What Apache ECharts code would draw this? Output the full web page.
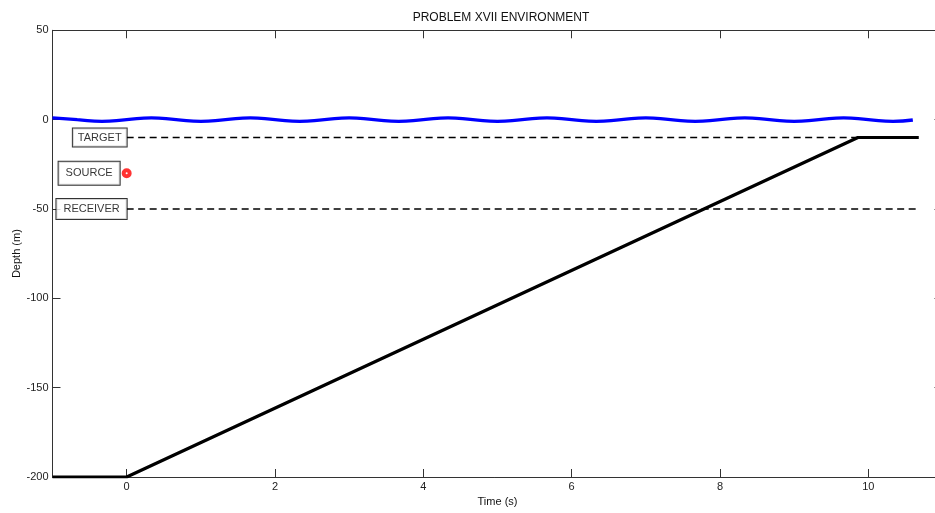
<!DOCTYPE html>
<html>
<head>
<meta charset="utf-8">
<script src="https://cdn.jsdelivr.net/npm/echarts@6/dist/echarts.min.js"></script>
<style>html,body{margin:0;padding:0;background:#fff;}#c{width:935px;height:513px;}</style>
</head>
<body>
<div id="c"></div>
<script>
// ---- data ----
const titleText = 'PROBLEM XVII ENVIRONMENT';
const xAxisName = 'Time (s)';
const yAxisName = 'Depth (m)';
const xTickValues = [0, 2, 4, 6, 8, 10];
const yTickValues = [-200, -150, -100, -50, 0, 50];

// sea surface wave (peaks / zero crossings / troughs)
const waveTime = [-1, -0.667, -0.333, 0, 0.333, 0.667, 1, 1.333, 1.667, 2, 2.333, 2.667, 3, 3.333, 3.667, 4, 4.333, 4.667, 5, 5.333, 5.667, 6, 6.333, 6.667, 7, 7.333, 7.667, 8, 8.333, 8.667, 9, 9.333, 9.667, 10, 10.333, 10.6];
const waveDepth = [1, 0, -1, 0, 1, 0, -1, 0, 1, 0, -1, 0, 1, 0, -1, 0, 1, 0, -1, 0, 1, 0, -1, 0, 1, 0, -1, 0, 1, 0, -1, 0, 1, 0, -1, -0.2];

// target trajectory
const trajTime = [-1, 0, 9.86, 10.68];
const trajDepth = [-200, -200, -10, -10];

// horizontal reference lines
const targetLineTime = [0, 10.66];
const targetLineDepth = [-10, -10];
const receiverLineTime = [0, 10.66];
const receiverLineDepth = [-50, -50];

// source position
const sourceTime = [0];
const sourceDepth = [-30];

// text boxes
const boxNames = ['TARGET', 'SOURCE', 'RECEIVER'];
const boxTime = [0, 0, 0];
const boxDepth = [-10, -30, -50];

// ---- chart ----
const FONT = '"Liberation Sans", Arial, sans-serif';
const zip = (a, b) => a.map((v, i) => [v, b[i]]);
const axisCol = '#333';

const boxStyles = [
  { padding: [3, 5, 2, 5], distance: 0 },
  { padding: [5, 7, 5, 7], distance: 7 },
  { padding: [4, 7, 3, 7], distance: 0 }
];

const chart = echarts.init(document.getElementById('c'), null, { renderer: 'canvas' });
chart.setOption({
  animation: false,
  backgroundColor: '#fff',
  title: {
    text: titleText,
    left: 496,
    top: 7,
    textAlign: 'center',
    textStyle: { fontFamily: FONT, fontSize: 12, fontWeight: 'normal', color: '#111' }
  },
  grid: { left: 52.5, width: 890, top: 30.3, height: 446.7, containLabel: false, outerBoundsMode: 'none' },
  xAxis: [
    {
      type: 'value', min: -1, max: 11, position: 'bottom',
      name: xAxisName, nameLocation: 'middle', nameGap: 19, nameMoveOverlap: false,
      nameTextStyle: { fontFamily: FONT, fontSize: 11, color: '#111' },
      axisLine: { show: true, onZero: false, lineStyle: { color: axisCol, width: 1 } },
      axisTick: { show: true, inside: true, length: 8, customValues: xTickValues, lineStyle: { color: axisCol } },
      axisLabel: { show: true, customValues: xTickValues, margin: 4, fontFamily: FONT, fontSize: 11, color: '#222' },
      splitLine: { show: false }
    },
    {
      type: 'value', min: -1, max: 11, position: 'top',
      axisLine: { show: true, onZero: false, lineStyle: { color: axisCol, width: 1 } },
      axisTick: { show: true, inside: true, length: 8, customValues: xTickValues, lineStyle: { color: axisCol } },
      axisLabel: { show: false },
      splitLine: { show: false }
    }
  ],
  yAxis: [
    {
      type: 'value', min: -200, max: 50, interval: 50, position: 'left',
      name: yAxisName, nameLocation: 'middle', nameGap: 30, nameRotate: 90, nameMoveOverlap: false,
      nameTextStyle: { fontFamily: FONT, fontSize: 11, color: '#111' },
      axisLine: { show: true, onZero: false, lineStyle: { color: axisCol, width: 1 } },
      axisTick: { show: true, inside: true, length: 8, lineStyle: { color: axisCol } },
      axisLabel: { show: true, margin: 4, fontFamily: FONT, fontSize: 11, color: '#222', customValues: yTickValues },
      splitLine: { show: false }
    },
    {
      type: 'value', min: -200, max: 50, interval: 50, position: 'right',
      axisLine: { show: true, onZero: false, lineStyle: { color: axisCol, width: 1 } },
      axisTick: { show: true, inside: true, length: 8, lineStyle: { color: axisCol } },
      axisLabel: { show: false },
      splitLine: { show: false }
    }
  ],
  series: [
    {
      name: 'Surface', type: 'line', xAxisIndex: 0, yAxisIndex: 0,
      data: zip(waveTime, waveDepth), smooth: 0.5, symbol: 'none',
      lineStyle: { color: '#0000ff', width: 3.3 }, z: 3
    },
    {
      name: 'Target line', type: 'line', data: zip(targetLineTime, targetLineDepth), symbol: 'none',
      lineStyle: { color: '#000', width: 1.5, type: [7, 4.5] }, z: 2
    },
    {
      name: 'Receiver line', type: 'line', data: zip(receiverLineTime, receiverLineDepth), symbol: 'none',
      lineStyle: { color: '#000', width: 1.5, type: [7, 4.5] }, z: 2
    },
    {
      name: 'Trajectory', type: 'line', data: zip(trajTime, trajDepth), symbol: 'none',
      lineStyle: { color: '#000', width: 3.2 }, z: 4
    },
    {
      name: 'Source', type: 'scatter', data: zip(sourceTime, sourceDepth),
      symbol: 'circle', symbolSize: 6,
      itemStyle: { color: '#fff', borderColor: '#ff0000', borderWidth: 4 }, z: 6
    },
    {
      name: 'Labels', type: 'scatter', symbolSize: 0, silent: true, z: 5,
      data: boxNames.map((n, i) => ({
        value: [boxTime[i], boxDepth[i]],
        name: n,
        label: {
          show: true, position: 'left', distance: boxStyles[i].distance,
          formatter: '{b}', fontFamily: FONT, fontSize: 11, lineHeight: 13, color: '#000',
          backgroundColor: '#fff', borderColor: '#000', borderWidth: 1,
          padding: boxStyles[i].padding
        }
      }))
    }
  ]
});
</script>
</body>
</html>
